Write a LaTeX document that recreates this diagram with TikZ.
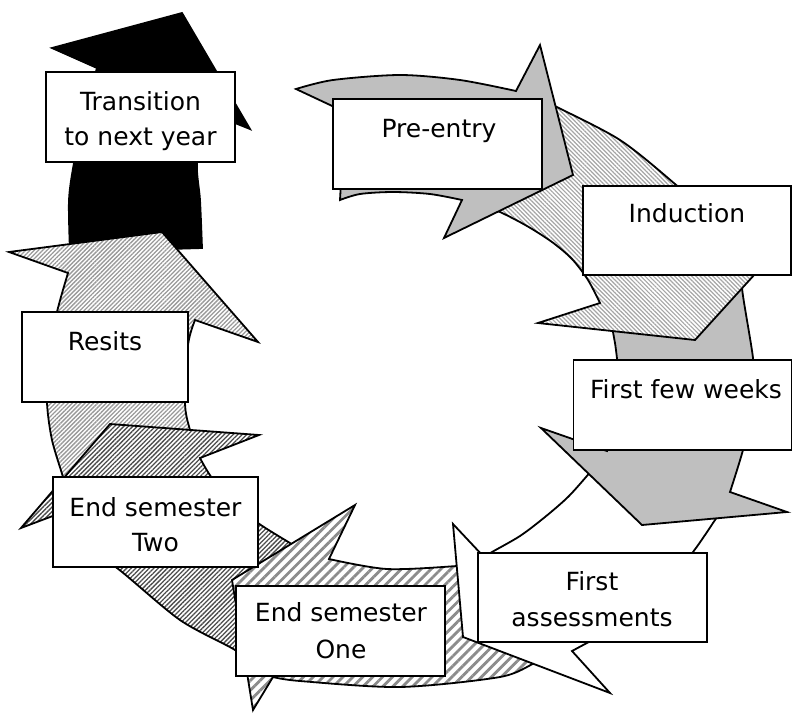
\documentclass[tikz,border=0pt]{standalone}
\usepackage{fontspec}
\newfontfamily\labelfont{DejaVu Sans}
\usetikzlibrary{patterns.meta}
\begin{document}
\begin{tikzpicture}[x=1pt,y=-1pt,
  arr/.style={draw=black, line width=1.8pt, line join=miter},
  box/.style={draw=black, fill=white, line width=1.5pt, inner sep=0pt},
  lbl/.style={anchor=base, inner sep=0pt, font=\labelfont\fontsize{25}{30}\selectfont}]
\useasboundingbox (0,0) rectangle (793,713);

% Transition to next year (black)
\path[arr, fill=black] (52,48) -- (182,13) -- (250,129) -- (205,111)
  -- plot[smooth] coordinates {(205,111) (197,163) (200,200) (202,248)}
  -- (70,252)
  -- plot[smooth] coordinates {(70,252) (69,200) (74,163) (84,115) (97,68)} -- cycle;

% Resits
\path[arr, preaction={fill=white}, pattern={Lines[angle=45,distance=3pt,line width=1.3pt]}, pattern color=black!40]
  (9,252) -- (162,232) -- (258,342) -- (195,320)
  -- plot[smooth] coordinates {(195,320) (188,345) (185,403) (190,430) (198,452)}
  -- (66,490)
  -- plot[smooth] coordinates {(66,490) (63,477) (52,440) (47,403) (48,360) (57,312) (68,273)} -- cycle;

% End semester Two
\path[arr, preaction={fill=white}, pattern={Lines[angle=45,distance=3.2pt,line width=1.3pt]}, pattern color=black!70]
  (110,424) -- (259,435) -- (200,458)
  -- plot[smooth] coordinates {(200,458) (212,478) (235,503) (258,523) (290,543) (305,552)}
  -- (250,665)
  -- plot[smooth] coordinates {(250,665) (235,650) (180,620) (117,568) (75,540) (58,514)}
  -- (21,528) -- cycle;

% End semester One
\path[arr, preaction={fill=white}, pattern={Lines[angle=45,distance=7pt,line width=2.8pt]}, pattern color=black!45]
  (355,505) -- (329,559)
  -- plot[smooth] coordinates {(329,559) (387,569) (457,566) (475,563)}
  -- (545,662)
  -- plot[smooth] coordinates {(545,662) (535,663) (500,677) (400,687) (300,681) (273,677)}
  -- (253,710) -- (232,580) -- cycle;

% First assessments (white)
\path[arr, fill=white]
  (453,524) -- (484,557)
  -- plot[smooth] coordinates {(484,557) (492,552) (520,536) (545,517) (569,496) (592,470)}
  -- (725,505)
  -- plot[smooth] coordinates {(725,505) (715,520) (693,552) (660,592) (620,625) (585,644) (572,651)}
  -- (610,693) -- (463,637) -- cycle;

% First few weeks (grey)
\path[arr, fill=black!25]
  (541,428) -- (607,451)
  -- plot[smooth] coordinates {(607,451) (615,410) (618,375) (616,350) (613,332) (610,315)}
  -- (745,270)
  -- plot[smooth] coordinates {(745,270) (742,288) (753,358) (755,400) (743,450) (730,492)}
  -- (787,512) -- (642,525) -- cycle;

% Induction
\path[arr, preaction={fill=white}, pattern={Lines[angle=-45,distance=3pt,line width=1.2pt]}, pattern color=black!35]
  (538,323) -- (600,303)
  -- plot[smooth] coordinates {(600,303) (588,280) (572,259) (552,242) (527,226) (500,212) (470,200)}
  -- (545,100)
  -- plot[smooth] coordinates {(545,100) (555,106) (620,140) (675,184) (720,225) (735,260)}
  -- (775,252) -- (695,340) -- cycle;

% Pre-entry (grey)
\path[arr, fill=black!25]
  (296,89)
  -- plot[smooth] coordinates {(296,89) (333,80) (400,75) (460,80) (516,91)}
  -- (540,45) -- (573,175) -- (444,238) -- (462,200)
  -- plot[smooth] coordinates {(462,200) (430,194) (393,192) (360,194) (340,200)}
  -- (345,112) -- cycle;

% boxes
\node[box, minimum width=189pt, minimum height=90pt] (btrans) at (140.5,117) {};
\node[box, minimum width=209pt, minimum height=90pt] (bpre) at (437.5,144) {};
\node[box, minimum width=208pt, minimum height=89pt] (bind) at (687,230.5) {};
\node[box, minimum width=218pt, minimum height=90pt] (bffw) at (682.5,405) {};
\node[box, minimum width=229pt, minimum height=89pt] (bfa) at (592.5,597.5) {};
\node[box, minimum width=209pt, minimum height=90pt] (beso) at (340.5,631) {};
\node[box, minimum width=205pt, minimum height=90pt] (best) at (155.5,522) {};
\node[box, minimum width=166pt, minimum height=90pt] (bres) at (105,357) {};

% labels
\node[lbl] (ltrans1) at (140.5,110) {Transition};
\node[lbl] (ltrans2) at (140.5,145) {to next year};
\node[lbl] (lpre) at (439,137) {Pre-entry};
\node[lbl] (lind) at (687,222) {Induction};
\node[lbl] (lffw) at (686,398) {First few weeks};
\node[lbl] (lfa1) at (592,590) {First};
\node[lbl] (lfa2) at (592,626) {assessments};
\node[lbl] (leso1) at (341,621) {End semester};
\node[lbl] (leso2) at (341,658) {One};
\node[lbl] (lest1) at (155.5,516) {End semester};
\node[lbl] (lest2) at (155.5,551) {Two};
\node[lbl] (lres) at (105,350) {Resits};
\end{tikzpicture}
\end{document}
